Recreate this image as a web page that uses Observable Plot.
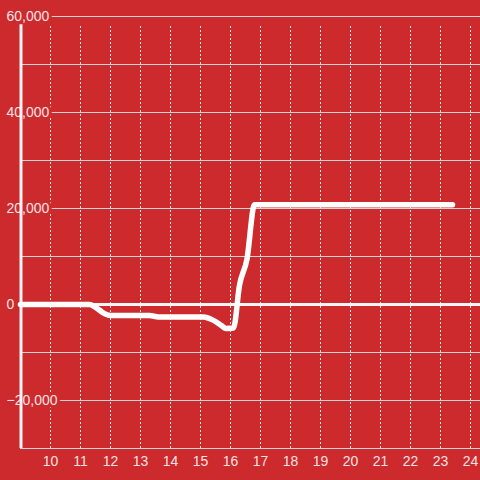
<!DOCTYPE html>
<html>
<head>
<meta charset="utf-8">
<script src="https://cdn.jsdelivr.net/npm/d3@7"></script>
<script src="https://cdn.jsdelivr.net/npm/@observablehq/plot@0.6"></script>
<style>
  html, body { margin: 0; padding: 0; background: #cd2a2e; }
  #chart { width: 480px; height: 480px; }
</style>
</head>
<body>
<div id="chart"></div>
<script>
// Data
const hours  = [9.0, 11.3, 11.5, 11.8, 12.0, 13.3, 13.6, 15.1, 15.4, 15.7, 15.85, 16.1, 16.3, 16.55, 16.8, 23.4];
const values = [0, 0, -600, -1900, -2300, -2300, -2600, -2600, -3200, -4400, -5000, -4900, 4000, 9500, 20800, 20800];
const xTicks = [10, 11, 12, 13, 14, 15, 16, 17, 18, 19, 20, 21, 22, 23, 24];
const yGrid = [-30000, -20000, -10000, 10000, 20000, 30000, 40000, 50000, 60000];
const yLabels = [-20000, 0, 20000, 40000, 60000];

const data = hours.map((h, i) => ({hour: h, value: values[i]}));
const bg = "#cd2a2e";
const textColor = "#f4e2e2";
const fmt = d3.format(",");

const chart = Plot.plot({
  width: 480,
  height: 480,
  marginLeft: 20,
  marginRight: 0,
  marginTop: 16,
  marginBottom: 32,
  style: {background: bg, fontFamily: "Liberation Sans, Arial, sans-serif", color: textColor},
  x: {domain: [9, 24.333], axis: null},
  y: {domain: [-30000, 60000], axis: null},
  marks: [
    Plot.ruleX(xTicks, {y1: -30000, y2: 58300, stroke: "#e8e8e8", strokeWidth: 1, strokeDasharray: "2,2"}),
    Plot.ruleY(yGrid, {x1: 9, x2: 24.333, stroke: "#d4d4d4", strokeWidth: 1}),
    Plot.ruleY([0], {x1: 8.93, x2: 24.333, stroke: "#f6f6f6", strokeWidth: 3}),
    Plot.text(yLabels, {x: 9, y: d => d, text: d => fmt(d), textAnchor: "start", dx: -14, fontSize: 14, fill: textColor, stroke: bg, strokeWidth: 6, paintOrder: "stroke"}),
    Plot.ruleX([9], {y1: -30000, y2: 58300, stroke: "#f4f4f4", strokeWidth: 3, dx: 0.5}),
    Plot.line(data, {x: "hour", y: "value", stroke: "white", strokeWidth: 5.5, strokeLinejoin: "round", curve: "monotone-x"}),
    Plot.axisX(xTicks, {tickSize: 0, tickPadding: 8, fontSize: 14, fill: textColor, label: null, tickFormat: d => String(d)})
  ]
});
document.getElementById("chart").appendChild(chart);
</script>
</body>
</html>
